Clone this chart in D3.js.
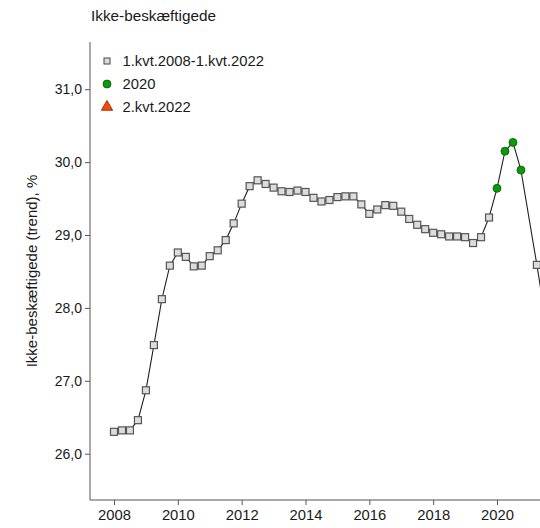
<!DOCTYPE html>
<html><head><meta charset="utf-8">
<script src="https://cdn.jsdelivr.net/npm/d3@7"></script>
<style>body{margin:0;background:#fff}svg{display:block;font-family:"Liberation Sans",Arial,sans-serif}</style>
</head><body>
<script>
// quarterly series 1.kvt.2008 - 1.kvt.2022 (x = year + (quarter-1)/4)
const quarters = [
 "2008Q1","2008Q2","2008Q3","2008Q4","2009Q1","2009Q2","2009Q3","2009Q4",
 "2010Q1","2010Q2","2010Q3","2010Q4","2011Q1","2011Q2","2011Q3","2011Q4",
 "2012Q1","2012Q2","2012Q3","2012Q4","2013Q1","2013Q2","2013Q3","2013Q4",
 "2014Q1","2014Q2","2014Q3","2014Q4","2015Q1","2015Q2","2015Q3","2015Q4",
 "2016Q1","2016Q2","2016Q3","2016Q4","2017Q1","2017Q2","2017Q3","2017Q4",
 "2018Q1","2018Q2","2018Q3","2018Q4","2019Q1","2019Q2","2019Q3","2019Q4",
 "2020Q1","2020Q2","2020Q3","2020Q4","2021Q2","2021Q3","2021Q4","2022Q1"];
const values = [
 26.30,26.32,26.32,26.46,26.87,27.49,28.12,28.58,
 28.76,28.70,28.57,28.58,28.71,28.79,28.93,29.16,
 29.43,29.67,29.75,29.70,29.65,29.60,29.59,29.61,
 29.59,29.51,29.46,29.48,29.52,29.53,29.53,29.42,
 29.29,29.35,29.41,29.40,29.32,29.22,29.14,29.08,
 29.03,29.01,28.98,28.98,28.97,28.89,28.97,29.24,
 29.64,30.15,30.27,29.89,28.59,27.90,27.40,27.00];
const highlight2020 = ["2020Q1","2020Q2","2020Q3","2020Q4"];
const latestQuarter = ["2022Q2"];
const latestValue = [26.80];
const yTicks = [26,27,28,29,30,31];
const xTicks = [2008,2010,2012,2014,2016,2018,2020];
const legendLabels = ["1.kvt.2008-1.kvt.2022","2020","2.kvt.2022"];
const title = "Ikke-beskæftigede";
const yTitle = "Ikke-beskæftigede (trend), %";

const qx = q => +q.slice(0,4) + (+q.slice(5)-1)/4;
const W = 540, H = 528;
const svg = d3.select("body").append("svg").attr("width",W).attr("height",H);

const x = d3.scaleLinear().domain([2008,2020]).range([114,497]);
const y = d3.scaleLinear().domain([26,31]).range([453.7,89.2]);

const axisColor = "#555";
const txt = "#1a1a1a";
// title
svg.append("text").attr("x",91).attr("y",20.5).attr("font-size",15.3).attr("fill",txt).text(title);
// y axis
const ya = svg.append("g").attr("transform","translate(90,0)")
  .call(d3.axisLeft(y).tickValues(yTicks).tickSize(5).tickFormat(d=>d3.format(".1f")(d).replace(".",",")));
ya.select(".domain").remove();
ya.append("line").attr("x1",0).attr("x2",0).attr("y1",42).attr("y2",500).attr("stroke",axisColor);
ya.selectAll(".tick line").attr("stroke",axisColor);
ya.selectAll(".tick text").attr("font-size",14).attr("fill",txt).attr("font-family","Liberation Sans, Arial, sans-serif").attr("x",-8);
// x axis
const xa = svg.append("g").attr("transform","translate(0,500)")
  .call(d3.axisBottom(x).tickValues(xTicks).tickSize(5).tickFormat(d3.format("d")));
xa.select(".domain").remove();
xa.append("line").attr("x1",90).attr("x2",W).attr("y1",0).attr("y2",0).attr("stroke",axisColor);
xa.selectAll(".tick line").attr("stroke",axisColor);
xa.selectAll(".tick text").attr("font-size",14.8).attr("fill",txt).attr("font-family","Liberation Sans, Arial, sans-serif").attr("y",9);
// y title
svg.append("text").attr("transform","translate(37,271) rotate(-90)").attr("text-anchor","middle")
  .attr("font-size",15).attr("fill",txt).text(yTitle);

const data = quarters.map((q,i)=>({q, x:qx(q), v:values[i]}));
// line
svg.append("path").datum(data).attr("fill","none").attr("stroke","#222").attr("stroke-width",1.1)
  .attr("d", d3.line().x(d=>x(d.x)).y(d=>y(d.v)));
// squares
svg.selectAll("rect.pt").data(data.filter(d=>!highlight2020.includes(d.q))).join("rect")
  .attr("x",d=>x(d.x)-3.5).attr("y",d=>y(d.v)-3.5).attr("width",7).attr("height",7)
  .attr("fill","#dcdcdc").attr("stroke","#555").attr("stroke-width",1.2);
// 2020 circles
svg.selectAll("circle.pt").data(data.filter(d=>highlight2020.includes(d.q))).join("circle")
  .attr("cx",d=>x(d.x)).attr("cy",d=>y(d.v)).attr("r",4)
  .attr("fill","#00a000").attr("stroke","#1a4d1a").attr("stroke-width",0.8);
// latest triangle
const tri = d3.symbol().type(d3.symbolTriangle).size(55);
svg.selectAll("path.tri").data(latestQuarter.map((q,i)=>({x:qx(q),v:latestValue[i]}))).join("path")
  .attr("transform",d=>`translate(${x(d.x)},${y(d.v)})`).attr("d",tri())
  .attr("fill","#ff4500").attr("stroke","#7a2000").attr("stroke-width",0.8);

// legend
const lg = svg.append("g");
const ly = [61,84,107];
lg.append("rect").attr("x",104).attr("y",ly[0]-3).attr("width",6).attr("height",6)
  .attr("fill","#dcdcdc").attr("stroke","#555").attr("stroke-width",1.1);
lg.append("circle").attr("cx",107).attr("cy",ly[1]).attr("r",4)
  .attr("fill","#00a000").attr("stroke","#1a4d1a").attr("stroke-width",0.8);
lg.append("path").attr("transform",`translate(107,${ly[2]})`).attr("d",tri())
  .attr("fill","#ff4500").attr("stroke","#7a2000").attr("stroke-width",0.8);
legendLabels.forEach((t,i)=>{
  lg.append("text").attr("x",122.5).attr("y",ly[i]+5).attr("font-size",14.8).attr("fill",txt).text(t);
});
</script>
</body></html>
